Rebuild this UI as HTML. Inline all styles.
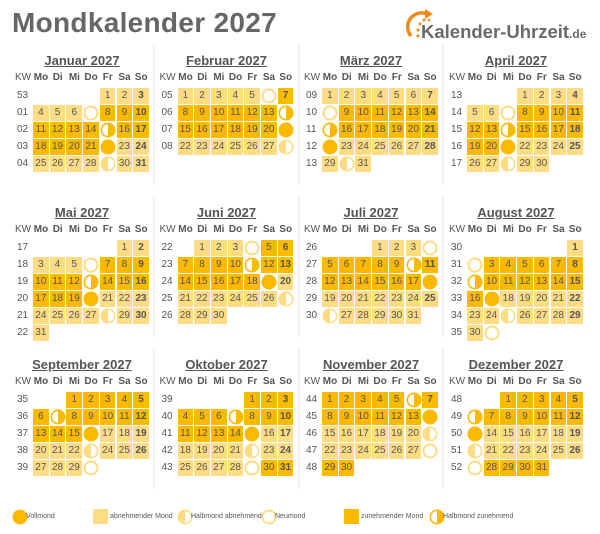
<!DOCTYPE html>
<html><head><meta charset="utf-8">
<style>
body{margin:0;background:#fff;}
#root{position:relative;width:600px;height:534px;overflow:hidden;font-family:"Liberation Sans",sans-serif;color:#555;background:#fff;}
.abs{position:absolute;}
.title{left:12px;top:7px;font-size:28px;font-weight:bold;color:#666;letter-spacing:0.3px;}
.mt{font-size:13px;font-weight:bold;text-decoration:underline;text-align:center;width:140px;color:#555;}
.wd{font-size:10px;font-weight:bold;width:16px;text-align:center;color:#555;}
.kwh{font-size:10px;color:#555;}
.kw{font-size:10px;color:#555;}
.c{width:15.7px;height:15.7px;font-size:10px;text-align:center;line-height:16px;color:#555;}
.L{background:#fddc84;}
.D{background:#fbb900;}
.sun{font-weight:bold;}
.sep{width:2px;background:#f0f0f0;}
.leg{font-size:7px;color:#555;}
</style></head>
<body>
<div id="root">
<div class="abs title">Mondkalender 2027</div>
<div class="abs" style="left:403px;top:6px;width:195px;height:40px;">
<svg width="40" height="40" style="position:absolute;left:0;top:0">
<path d="M8 30 A14 14 0 0 1 24 8" stroke="#f08a1c" stroke-width="3.5" fill="none"/>
<path d="M22 3 L30 8 L22 13 Z" fill="#f08a1c"/>
<circle cx="17" cy="18" r="1.5" fill="#f08a1c"/><circle cx="15" cy="24" r="1.5" fill="#f08a1c"/><circle cx="15" cy="30" r="1.5" fill="#f08a1c"/><circle cx="21" cy="14" r="1.5" fill="#f08a1c"/><circle cx="26" cy="14" r="1.3" fill="#f08a1c"/>
</svg>
<div class="abs" style="left:18px;top:15px;font-size:18.5px;font-weight:bold;color:#6a6a6a;white-space:nowrap;">Kalender-Uhrzeit<span style="font-size:12px;">.de</span></div>
</div>
<div id="cal"></div>
<div id="legend"></div>
</div>
<script>
const year = 2027;
const monthNames = ["Januar","Februar","März","April","Mai","Juni","Juli","August","September","Oktober","November","Dezember"];
const weekdays = ["Mo","Di","Mi","Do","Fr","Sa","So"];
// moon events per month: new, first quarter, full, last quarter (day numbers)
const newMoons = [[7],[6],[8],[7],[6],[4],[4],[2,31],[30],[29],[28],[27]];
const firstQuarters = [[15],[14],[15],[14],[13],[11],[10],[9],[7],[7],[6],[6]];
const fullMoons = [[22],[21],[22],[21],[20],[19],[18],[17],[16],[15],[14],[13]];
const lastQuarters = [[29],[28],[30],[28],[28],[27],[26],[25],[23],[22],[21],[20]];

const DARK="#fbb900", LIGHT="#fddc84";
function moonSvg(kind){
  if(kind==="full") return `<svg width="16" height="16"><circle cx="8" cy="8" r="7.5" fill="${DARK}"/></svg>`;
  if(kind==="new") return `<svg width="16" height="16"><circle cx="8" cy="8" r="6.5" fill="#fff" stroke="${LIGHT}" stroke-width="2"/></svg>`;
  if(kind==="fq") return `<svg width="16" height="16"><circle cx="8" cy="8" r="6.7" fill="#fff" stroke="${DARK}" stroke-width="1.6"/><path d="M8 1.3 A6.7 6.7 0 0 1 8 14.7 Z" fill="${DARK}"/></svg>`;
  return `<svg width="16" height="16"><circle cx="8" cy="8" r="6.7" fill="#fff" stroke="${LIGHT}" stroke-width="1.6"/><path d="M8 1.3 A6.7 6.7 0 0 0 8 14.7 Z" fill="${LIGHT}"/></svg>`;
}
function isoWeek(d){
  const t=new Date(Date.UTC(d.getFullYear(),d.getMonth(),d.getDate()));
  const day=(t.getUTCDay()+6)%7; t.setUTCDate(t.getUTCDate()-day+3);
  const fy=new Date(Date.UTC(t.getUTCFullYear(),0,4));
  return 1+Math.round(((t-fy)/86400000-3+((fy.getUTCDay()+6)%7))/7);
}
const cal=document.getElementById('cal');
let waxing=false; // Jan 1 state: waning
const colX=[12,156.5,301,446];
const rowY=[45,197,349];
for(let m=0;m<12;m++){
  const bx=colX[m%4], by=rowY[Math.floor(m/4)];
  const t=document.createElement('div');
  t.className='abs mt'; t.style.left=bx+'px'; t.style.top=(by+8)+'px';
  t.textContent=monthNames[m]+' '+year;
  
  
  cal.appendChild(t);
  const kh=document.createElement('div');
  kh.className='abs kwh'; kh.style.left=(bx+3)+'px'; kh.style.top=(by+27)+'px'; kh.textContent='KW';
  
  
  cal.appendChild(kh);
  for(let w=0;w<7;w++){
    const e=document.createElement('div');
    e.className='abs wd'; e.style.left=(bx+21+w*16.7)+'px'; e.style.top=(by+27)+'px'; e.textContent=weekdays[w];
    
    
    cal.appendChild(e);
  }
  if(m%4<3){
    const s=document.createElement('div');
    s.className='abs sep'; s.style.left=(bx+141)+'px'; s.style.top=(by)+'px'; s.style.height='140px';
    
    
    cal.appendChild(s);
  }
  const days=new Date(year,m+1,0).getDate();
  const first=(new Date(year,m,1).getDay()+6)%7;
  let row=0, lastRow=-1;
  for(let d=1;d<=days;d++){
    const col=(first+d-1)%7;
    row=Math.floor((first+d-1)/7);
    const x=bx+21+col*16.7, y=by+43+row*17;
    if(row!==lastRow){
      lastRow=row;
      const k=document.createElement('div');
      k.className='abs kw'; k.style.left=(bx+5)+'px'; k.style.top=(y+2)+'px';
      k.textContent=String(isoWeek(new Date(year,m,d))).padStart(2,'0');
      
      
      cal.appendChild(k);
    }
    const c=document.createElement('div');
    c.style.left=x+'px'; c.style.top=y+'px';
    
    
    let kind=null;
    if(newMoons[m].includes(d)){kind='new';waxing=true;}
    else if(firstQuarters[m].includes(d)){kind='fq';}
    else if(fullMoons[m].includes(d)){kind='full';waxing=false;}
    else if(lastQuarters[m].includes(d)){kind='lq';}
    if(kind){ c.className='abs c'; c.innerHTML=moonSvg(kind); }
    else { c.className='abs c '+(waxing?'D':'L')+(col===6?' sun':''); c.textContent=d; }
    cal.appendChild(c);
  }
}
// legend
const legendLabels=["Vollmond","abnehmender Mond","Halbmond abnehmend","Neumond","zunehmender Mond","Halbmond zunehmend"];
const legendKinds=["full","L","lq","new","D","fq"];
const legendX=[12,93,177,261,344,429];
const lg=document.getElementById('legend');
for(let i=0;i<6;i++){
  const ic=document.createElement('div');
  ic.className='abs'; ic.style.left=legendX[i]+'px'; ic.style.top='509px'; ic.style.width='16px'; ic.style.height='16px';
  
  
  if(legendKinds[i]==='L'||legendKinds[i]==='D'){ic.style.background=legendKinds[i]==='L'?LIGHT:DARK;ic.style.width='15px';ic.style.height='15px';}
  else ic.innerHTML=moonSvg(legendKinds[i]);
  lg.appendChild(ic);
  const tx=document.createElement('div');
  tx.className='abs leg'; tx.style.left=(legendX[i]+(i===1||i===4?17:14))+'px'; tx.style.top='513px';
  tx.textContent=legendLabels[i];
  
  
  lg.appendChild(tx);
}
</script>
</body></html>
